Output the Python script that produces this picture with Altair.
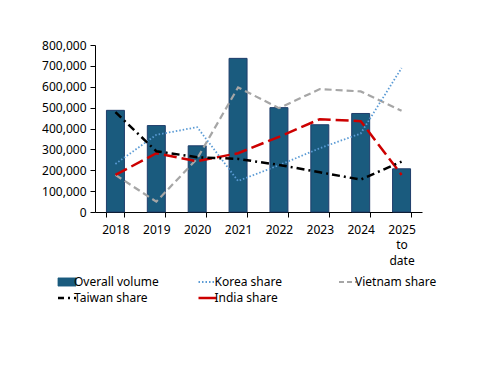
import altair as alt
import pandas as pd

years = ["2018", "2019", "2020", "2021", "2022", "2023", "2024", "2025 to date"]
overall_volume = [487000, 414000, 317000, 736000, 500000, 418000, 472000, 207000]
korea_share = [0.144, 0.231, 0.254, 0.093, 0.140, 0.191, 0.235, 0.431]
vietnam_share = [0.111, 0.031, 0.160, 0.373, 0.311, 0.368, 0.361, 0.303]
taiwan_share = [0.299, 0.182, 0.164, 0.159, 0.141, 0.119, 0.097, 0.151]
india_share = [0.111, 0.176, 0.152, 0.176, 0.225, 0.278, 0.272, 0.111]

series_names = ["Overall volume", "Korea share", "Vietnam share", "Taiwan share", "India share"]
series_colors = ["#1a5b7e", "#5b9bd5", "#a6a6a6", "#000000", "#cc0000"]

left_ticks = [0, 100000, 200000, 300000, 400000, 500000, 600000, 700000, 800000]
right_ticks = [0, 0.05, 0.10, 0.15, 0.20, 0.25, 0.30, 0.35, 0.40, 0.45, 0.50]

bars_df = pd.DataFrame({"year": years, "series": "Overall volume", "value": overall_volume})
lines_df = pd.concat([
    pd.DataFrame({"year": years, "series": "Korea share", "value": korea_share}),
    pd.DataFrame({"year": years, "series": "Vietnam share", "value": vietnam_share}),
    pd.DataFrame({"year": years, "series": "Taiwan share", "value": taiwan_share}),
    pd.DataFrame({"year": years, "series": "India share", "value": india_share}),
])

FONT = "Noto Sans"

x_enc = alt.X(
    "year:N", sort=years, title=None,
    scale=alt.Scale(paddingInner=0.56, paddingOuter=0.28),
    axis=alt.Axis(labelAngle=0, tickBand="extent", tickSize=5, tickColor="#000",
                  domainColor="#000", labelPadding=7, labelFontSize=12,
                  labelColor="#000", labelFont=FONT, labelLineHeight=15.5,
                  labelExpr="datum.value == '2025 to date' ? ['2025','to','date'] : datum.label"),
)

def pick(mapping, default):
    expr = default
    for k, v in reversed(list(mapping.items())):
        expr = f"datum.value === '{k}' ? {v} : ({expr})"
    return expr

legend = alt.Legend(
    title=None, orient="none", legendX=-34, legendY=231, columns=3,
    direction="horizontal",
    gridAlign="all", columnPadding=34.5, rowPadding=4, padding=0,
    symbolSize=324, labelFont=FONT, labelFontSize=12, labelColor="#000",
    labelOffset=1, labelLimit=200,
    symbolType={"expr": pick({"Overall volume": "'M-1,-0.45H1V0.45H-1Z'"}, "'stroke'")},
    symbolFillColor={"expr": pick({"Overall volume": "'#1a5b7e'"}, "'transparent'")},
    symbolStrokeColor={"expr": pick({
        "Overall volume": "'#1f3d6b'", "Korea share": "'#5b9bd5'",
        "Vietnam share": "'#a6a6a6'", "Taiwan share": "'#000000'"}, "'#cc0000'")},
    symbolStrokeWidth={"expr": pick({
        "Overall volume": "0.8", "Korea share": "1.8", "Vietnam share": "2"}, "2.5")},
    symbolDash={"expr": pick({
        "Korea share": "[1.5,2]", "Vietnam share": "[5,3]",
        "Taiwan share": "[6,4,2,4]"}, "[]")},
)

color_scale = alt.Scale(domain=series_names, range=series_colors)

bars = alt.Chart(bars_df).mark_bar(stroke="#1f3d6b", strokeWidth=1).encode(
    x=x_enc,
    y=alt.Y("value:Q", title=None,
            scale=alt.Scale(domain=[0, 800000], nice=False),
            axis=alt.Axis(values=left_ticks, format=",d", grid=False, tickSize=5,
                          tickColor="#000", domainColor="#000", labelPadding=4,
                          labelFontSize=12, labelFont=FONT, labelColor="#000")),
    color=alt.Color("series:N", scale=color_scale, legend=legend),
)

styles = {
    "Korea share": dict(strokeDash=[1.5, 2], strokeWidth=1.8),
    "Vietnam share": dict(strokeDash=[7, 4], strokeWidth=2.2),
    "Taiwan share": dict(strokeDash=[8, 4, 2, 4], strokeWidth=2.5),
    "India share": dict(strokeDash=[13, 5], strokeWidth=2.5),
}

right_axis = alt.Axis(values=right_ticks, format=".0%", grid=False, orient="right",
                      domain=False, ticks=False, labelPadding=11, labelFontSize=12,
                      labelFont=FONT, labelColor="#000")

line_layers = []
for i, name in enumerate(["Vietnam share", "Korea share", "India share", "Taiwan share"]):
    ln = alt.Chart(lines_df).transform_filter(alt.datum.series == name).mark_line(
        **styles[name]
    ).encode(
        x=x_enc,
        y=alt.Y("value:Q", title=None, scale=alt.Scale(domain=[0, 0.5], nice=False),
                axis=right_axis if i == 0 else None),
        color=alt.Color("series:N", scale=color_scale, legend=None),
    )
    line_layers.append(ln)

lines = alt.layer(*line_layers)

chart = alt.layer(bars, lines).resolve_scale(y="independent").properties(
    width=327, height=167,
    padding={"left": 33, "top": 31, "right": 5, "bottom": 5},
    background="white",
).configure_view(stroke=None)

chart.save("out.html", embed_options={"renderer": "svg", "actions": False})
